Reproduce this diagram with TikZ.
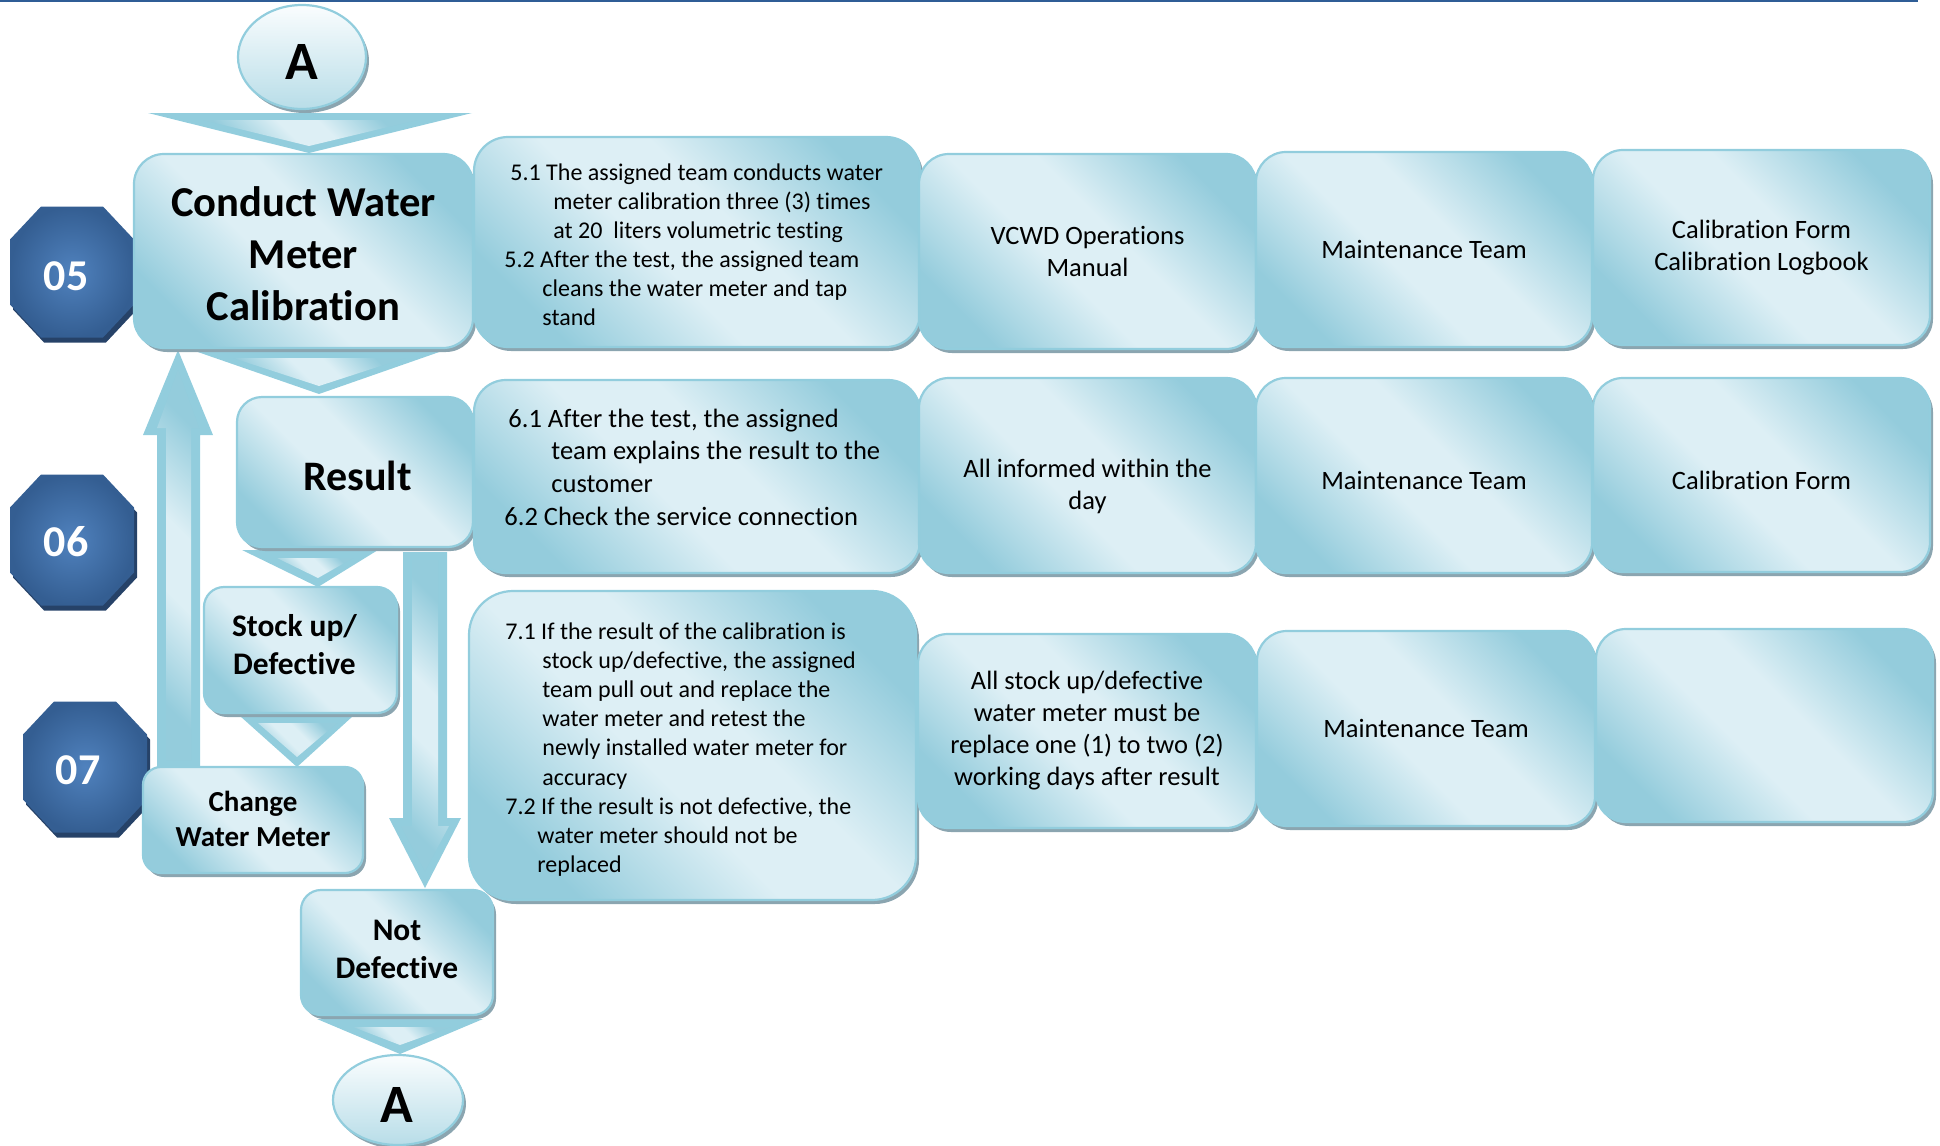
\documentclass[tikz,border=0pt]{standalone}
\usepackage{fontspec}
\setmainfont{Carlito}[Ligatures={NoCommon,NoContextual}]
\usetikzlibrary{shapes.geometric,shadows}

\definecolor{bord}{RGB}{146,205,221}
\definecolor{gdark}{RGB}{148,204,220}
\definecolor{glight}{RGB}{221,239,245}
\definecolor{shad}{RGB}{139,165,176}
\definecolor{ellt}{RGB}{250,253,254}
\definecolor{ellb}{RGB}{184,221,232}
\definecolor{octin}{RGB}{80,130,190}
\definecolor{octout}{RGB}{52,94,146}
\definecolor{octsh}{RGB}{38,66,104}
\definecolor{rulec}{RGB}{47,93,150}

\pgfdeclarehorizontalshading{glass}{100bp}{color(0bp)=(gdark); color(25bp)=(gdark); color(44bp)=(glight); color(56bp)=(glight); color(75bp)=(gdark); color(100bp)=(gdark)}

% octagonal step badge: name, centre
\newcommand{\stepoct}[2]{%
  \node[minimum width=62pt, minimum height=65.5pt, inner sep=0pt, outer sep=0pt] (#1) at (#2) {};
  \fill[octsh, transform canvas={shift={(1.5pt,-2.5pt)}}]
    ([xshift=15.5pt]#1.north west) -- ([xshift=-15.5pt]#1.north east) --
    ([yshift=-16.5pt]#1.north east) -- ([yshift=16.5pt]#1.south east) --
    ([xshift=-15.5pt]#1.south east) -- ([xshift=15.5pt]#1.south west) --
    ([yshift=16.5pt]#1.south west) -- ([yshift=-16.5pt]#1.north west) -- cycle;
  \shade[inner color=octin, outer color=octout]
    ([xshift=15.5pt]#1.north west) -- ([xshift=-15.5pt]#1.north east) --
    ([yshift=-16.5pt]#1.north east) -- ([yshift=16.5pt]#1.south east) --
    ([xshift=-15.5pt]#1.south east) -- ([xshift=15.5pt]#1.south west) --
    ([yshift=16.5pt]#1.south west) -- ([yshift=-16.5pt]#1.north west) -- cycle;
}

\begin{document}
\begin{tikzpicture}[x=0.5pt,y=-0.5pt,
  box/.style={shade, shading=glass, shading angle=45, draw=bord, line width=1.1pt,
    general shadow={fill=shad, shadow xshift=1.5pt, shadow yshift=-2pt},
    inner sep=0pt, align=center, text=black},
  rbox/.style={box, font=\fontsize{13.25pt}{16pt}\selectfont},
  rtxt/.style={inner sep=0pt, align=center, font=\fontsize{13.25pt}{16pt}\selectfont},
  chevout/.style={fill=bord},
  chevin/.style={shade, shading=glass, shading angle=45},
  oval/.style={ellipse, draw=bord, line width=1.1pt, top color=ellt, bottom color=ellb,
    general shadow={fill=shad, shadow xshift=1.5pt, shadow yshift=-2pt}, inner sep=0pt},
  octnum/.style={text=white, font=\bfseries\fontsize{22pt}{26pt}\selectfont, inner sep=0pt},
  bigA/.style={font=\bfseries\fontsize{27pt}{32pt}\selectfont, inner sep=0pt},
  ttl/.style={inner sep=0pt, align=center},
  steptxt/.style={anchor=base west, inner sep=0pt, align=left}
]
\useasboundingbox (0,0) rectangle (1940,1146);

% rule along the top edge
\draw[rulec, line width=1.2pt] (0,1.2) -- (1918,1.2);

% chevrons between the flow steps
\fill[chevout] (148,113) -- (472,113) -- (309,153) -- cycle;
\path[chevin]  (203,120) -- (417,120) -- (309,146) -- cycle;
\fill[chevout] (192,350) -- (445,350) -- (319,394) -- cycle;
\path[chevin]  (233,358) -- (405,358) -- (319,386) -- cycle;
\fill[chevout] (242,550) -- (378,550) -- (318,587) -- cycle;
\path[chevin]  (277,558) -- (353,558) -- (318,578) -- cycle;
\fill[chevout] (240,716) -- (353,716) -- (297,767) -- cycle;
\path[chevin]  (258,723) -- (337,723) -- (297,757) -- cycle;
\fill[chevout] (317,1019) -- (483,1019) -- (400,1054) -- cycle;
\path[chevin]  (353,1027) -- (450,1027) -- (400,1045) -- cycle;

% block arrow back up to the calibration step
\fill[chevout] (157,767) -- (157,435) -- (143,435) -- (178,350) -- (213,435) -- (200,435) -- (200,767) -- cycle;
\path[chevin]  (166,760) -- (166,428) -- (157,428) -- (178,370) -- (199,428) -- (191,428) -- (191,760) -- cycle;

% block arrow down to "Not Defective"
\fill[chevout] (403,552) -- (447,552) -- (447,818) -- (461,818) -- (425,888) -- (389,818) -- (403,818) -- cycle;
\path[chevin]  (412,560) -- (438,560) -- (438,826) -- (449,826) -- (425,871) -- (401,826) -- (412,826) -- cycle;

% step numbers
\stepoct{o5}{72,272}
\stepoct{o6}{72,540}
\stepoct{o7}{85,767}
\node[octnum] (n5) at (66,276) {05};
\node[octnum] (n6) at (66,542) {06};
\node[octnum] (n7) at (78,770) {07};

% connectors A
\node[oval, minimum width=64pt, minimum height=52pt] (a1) at (302,57) {};
\node[bigA] (a1t) at (302,62) {A};
\node[oval, minimum width=65pt, minimum height=45pt] (a2) at (398,1100) {};
\node[bigA] (a2t) at (397,1105) {A};

% flow steps
\node[box, minimum width=169.5pt, minimum height=97pt, rounded corners=15pt] (cond) at (303.5,251) {};
\node[box, minimum width=118pt, minimum height=75pt, rounded corners=12.5pt] (result) at (355,472) {};
\node[box, minimum width=96.5pt, minimum height=63pt, rounded corners=10pt] (stock) at (300.5,650) {};
\node[box, minimum width=110pt, minimum height=53pt, rounded corners=9pt] (change) at (253,820) {};
\node[box, minimum width=96pt, minimum height=62.5pt, rounded corners=10pt] (notdef) at (397,952.5) {};

\node[ttl, font=\bfseries\fontsize{21.3pt}{26pt}\selectfont] (condtxt) at (303.5,253.5) {Conduct Water\\Meter\\Calibration};
\node[ttl, font=\bfseries\fontsize{21pt}{26pt}\selectfont] (resulttxt) at (357.5,475.5) {Result};
\node[ttl, font=\bfseries\fontsize{15.7pt}{19pt}\selectfont] (stocktxt) at (294.5,644.5) {Stock up/\\Defective};
\node[ttl, font=\bfseries\fontsize{14.5pt}{17.3pt}\selectfont] (changetxt) at (253,819) {Change\\Water Meter};
\node[ttl, font=\bfseries\fontsize{15.7pt}{19pt}\selectfont] (notdeftxt) at (397,949) {Not\\Defective};

% row 05
\node[box, minimum width=223pt, minimum height=105pt, rounded corners=17pt] (t5) at (697,242) {};
\node[rbox, minimum width=168.5pt, minimum height=97.5pt, rounded corners=15pt] (v5) at (1087.5,251.5) {VCWD Operations\\Manual};
\node[rbox, minimum width=168pt, minimum height=97.5pt, rounded corners=15pt] (m5) at (1424,249.5) {Maintenance Team};
\node[rbox, minimum width=168.5pt, minimum height=97.5pt, rounded corners=15pt] (c5) at (1761.5,247.5) {Calibration Form\\Calibration Logbook};

% row 06
\node[box, minimum width=223pt, minimum height=96.5pt, rounded corners=16pt] (t6) at (697,476.5) {};
\node[box, minimum width=168.5pt, minimum height=97.5pt, rounded corners=15pt] (v6) at (1087.5,475.5) {};
\node[box, minimum width=168pt, minimum height=97.5pt, rounded corners=15pt] (m6) at (1424,475.5) {};
\node[box, minimum width=168.5pt, minimum height=97pt, rounded corners=15pt] (c6) at (1761.5,475) {};
\node[rtxt] (v6txt) at (1087.5,486) {All informed within the\\day};
\node[rtxt] (m6txt) at (1424,480.5) {Maintenance Team};
\node[rtxt] (c6txt) at (1761.5,480) {Calibration Form};

% row 07
\node[box, minimum width=223.5pt, minimum height=154.5pt, rounded corners=22pt] (t7) at (692.5,745.5) {};
\node[rbox, minimum width=169pt, minimum height=97pt, rounded corners=15pt] (v7) at (1087,731) {All stock up/defective\\water meter must be\\replace one (1) to two (2)\\working days after result};
\node[rbox, minimum width=169pt, minimum height=97.5pt, rounded corners=15pt] (m7) at (1426,728.5) {Maintenance Team};
\node[rbox, minimum width=168.5pt, minimum height=96.5pt, rounded corners=15pt] (c7) at (1764.5,725.5) {};

% activity texts
\node[steptxt, font=\fontsize{12pt}{14.5pt}\selectfont] (t5txt) at (504,180) {\vtop{\baselineskip=14.5pt
  \hbox{\kern3pt 5.1 The assigned team conducts water}
  \hbox{\kern24.5pt meter calibration three (3) times}
  \hbox{\kern24.5pt at 20\ \ liters volumetric testing}
  \hbox{5.2 After the test, the assigned team}
  \hbox{\kern19pt cleans the water meter and tap}
  \hbox{\kern19pt stand}}};

\node[steptxt, font=\fontsize{13.25pt}{16.35pt}\selectfont] (t6txt) at (504,427) {\vtop{\baselineskip=16.35pt
  \hbox{\kern2pt 6.1 After the test, the assigned}
  \hbox{\kern23.5pt team explains the result to the}
  \hbox{\kern23.5pt customer}
  \hbox{6.2 Check the service connection}}};

\begin{scope}
\clip (470,590) rectangle (916,875);
\node[steptxt, font=\fontsize{12pt}{14.6pt}\selectfont] (t7txt) at (505,639) {\vtop{\baselineskip=14.6pt
  \hbox{7.1 If the result of the calibration is}
  \hbox{\kern18.5pt stock up/defective, the assigned}
  \hbox{\kern18.5pt team pull out and replace the}
  \hbox{\kern18.5pt water meter and retest the}
  \hbox{\kern18.5pt newly installed water meter for}
  \hbox{\kern18.5pt accuracy}
  \hbox{7.2 If the result is not defective, the}
  \hbox{\kern16pt water meter should not be}
  \hbox{\kern16pt replaced}}};
\end{scope}
\end{tikzpicture}
\end{document}
